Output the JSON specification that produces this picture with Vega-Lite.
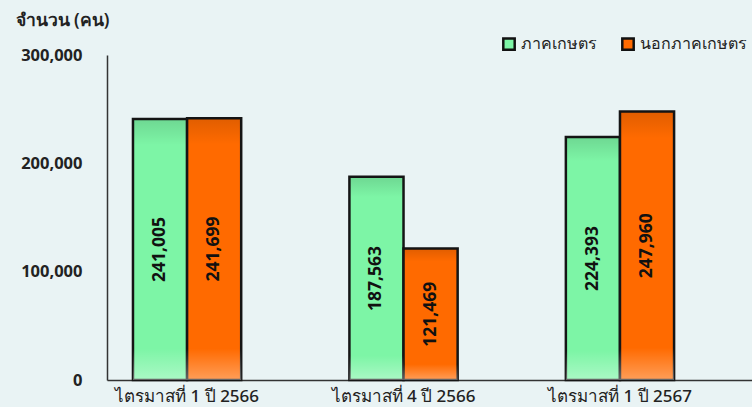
{
  "$schema": "https://vega.github.io/schema/vega-lite/v6.json",
  "width": 645,
  "height": 325,
  "autosize": {"type": "none"},
  "padding": {"left": 107, "top": 55, "right": 0, "bottom": 27},
  "background": "#e9f3f4",
  "config": {"view": {"stroke": null}, "font": "Noto Sans"},
  "data": {
    "values": [
      {"quarter": "ไตรมาสที่ 1 ปี 2566", "series": "ภาคเกษตร", "value": 241005},
      {"quarter": "ไตรมาสที่ 1 ปี 2566", "series": "นอกภาคเกษตร", "value": 241699},
      {"quarter": "ไตรมาสที่ 4 ปี 2566", "series": "ภาคเกษตร", "value": 187563},
      {"quarter": "ไตรมาสที่ 4 ปี 2566", "series": "นอกภาคเกษตร", "value": 121469},
      {"quarter": "ไตรมาสที่ 1 ปี 2567", "series": "ภาคเกษตร", "value": 224393},
      {"quarter": "ไตรมาสที่ 1 ปี 2567", "series": "นอกภาคเกษตร", "value": 247960}
    ]
  },
  "encoding": {
    "x": {
      "field": "quarter", "type": "nominal", "sort": null,
      "scale": {"paddingInner": 0.5, "paddingOuter": 0.24, "align": 0.25},
      "axis": {"title": null, "labelAngle": 0, "ticks": false, "labelFontSize": 17, "labelFontWeight": 500, "labelColor": "#222", "labelPadding": 8, "domainColor": "#333", "domainWidth": 1.5}
    },
    "xOffset": {"field": "series", "type": "nominal", "sort": ["ภาคเกษตร", "นอกภาคเกษตร"], "scale": {"paddingInner": 0}}
  },
  "layer": [
    {
      "mark": {"type": "bar", "stroke": "#151515", "strokeWidth": 2.5},
      "encoding": {
        "y": {
          "field": "value", "type": "quantitative",
          "scale": {"domain": [0, 300000], "nice": false},
          "axis": {"values": [0, 100000, 200000, 300000], "format": ",.0f", "grid": false, "ticks": false,
            "labelFontSize": 16.5, "labelFontWeight": "bold", "labelColor": "#222", "labelPadding": 25,
            "domainColor": "#333", "domainWidth": 1.5,
            "title": "จำนวน (คน)", "titleAngle": 0, "titleAlign": "left", "titleBaseline": "middle",
            "titleX": -92, "titleY": -35, "titleFontSize": 17.5, "titleFontWeight": 600, "titleColor": "#222"}
        },
        "color": {
          "field": "series", "type": "nominal",
          "scale": {"domain": ["ภาคเกษตร", "นอกภาคเกษตร"], "range": ["#7df5a6", "#ff6a00"]},
          "legend": {"title": null, "orient": "none", "legendX": 394, "legendY": -19, "direction": "horizontal",
            "symbolType": "square", "symbolSize": 130, "symbolStrokeColor": "#111", "symbolStrokeWidth": 2.5,
            "labelFontSize": 16, "labelColor": "#222", "labelFontWeight": 500, "columnPadding": 20, "labelOffset": 4}
        }
      }
    },
    {
      "mark": {
        "type": "bar",
        "fill": {"gradient": "linear", "x1": 0, "y1": 0, "x2": 0, "y2": 1, "stops": [
          {"offset": 0, "color": "rgba(0,0,0,0.12)"},
          {"offset": 0.1, "color": "rgba(0,0,0,0)"},
          {"offset": 0.88, "color": "rgba(255,255,255,0)"},
          {"offset": 1, "color": "rgba(255,255,255,0.35)"}
        ]},
        "strokeWidth": 0
      },
      "encoding": {
        "y": {"field": "value", "type": "quantitative"}
      }
    },
    {
      "transform": [{"calculate": "datum.value / 2", "as": "mid"}],
      "mark": {"type": "text", "angle": 270, "fontSize": 17.5, "fontWeight": "bold", "color": "#111", "align": "center", "baseline": "middle"},
      "encoding": {
        "y": {"field": "mid", "type": "quantitative"},
        "text": {"field": "value", "type": "quantitative", "format": ","}
      }
    }
  ]
}
